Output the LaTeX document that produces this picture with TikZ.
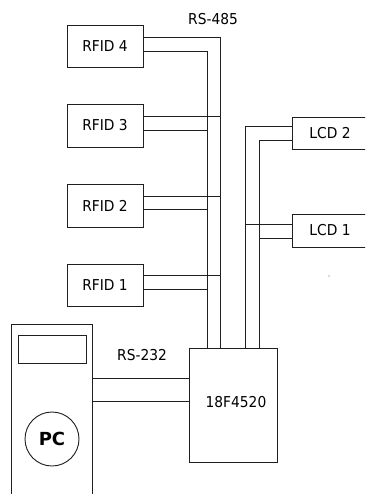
\documentclass[tikz,border=0pt]{standalone}
\usepackage{fontspec}
\usetikzlibrary{calc}
\newfontfamily\lbl{DejaVu Sans}[FakeStretch=0.92]
\newfontfamily\lblb{DejaVu Sans}
\begin{document}
\begin{tikzpicture}[x=1pt,y=-1pt,
  wire/.style={draw=black!88,line width=0.9pt},
  box/.style={draw=black!88,line width=0.9pt,rectangle,inner sep=0pt,font=\lbl\fontsize{15}{18}\selectfont},
  txt/.style={inner sep=0pt,font=\lbl\fontsize{15}{18}\selectfont}]
\useasboundingbox (0,0) rectangle (365,494);
\clip (0,0) rectangle (365,494);
% RFID boxes
\node[box,minimum width=76pt,minimum height=42pt] (r4) at (105,46) {RFID 4};
\node[box,minimum width=76pt,minimum height=43pt] (r3) at (105,125.5) {RFID 3};
\node[box,minimum width=76pt,minimum height=43pt] (r2) at (105,205.5) {RFID 2};
\node[box,minimum width=76pt,minimum height=42pt] (r1) at (105,285) {RFID 1};
% LCD boxes (cut by right edge)
\node[box,minimum width=76pt,minimum height=32pt] (l2) at (330,133) {LCD 2};
\node[box,minimum width=76pt,minimum height=33pt] (l1) at (330,230.5) {LCD 1};
% microcontroller
\node[box,minimum width=88pt,minimum height=114pt] (mcu) at (233,405) {};
\node[txt] (mcut) at (236,402) {18F4520};
% PC (cut by bottom edge)
\node[box,minimum width=81pt,minimum height=190pt] (pc) at (51.5,419) {};
\node[box,minimum width=68pt,minimum height=28pt] (scr) at (52,349) {};
\node[draw=black!88,line width=0.9pt,circle,minimum size=54pt,inner sep=0pt,font=\lblb\bfseries\fontsize{18}{20}\selectfont] (pcc) at (52,439) {PC};
% labels
\node[txt] (rs485) at (213,19) {RS-485};
\node[txt] (rs232) at (142,355) {RS-232};
% bus coordinates at MCU top
\coordinate (bA) at ($(mcu.north west)+(32,0)$);
\coordinate (bB) at ($(mcu.north west)+(19,0)$);
\coordinate (bC) at ($(mcu.north west)+(57,0)$);
\coordinate (bD) at ($(mcu.north west)+(71,0)$);
% RS-485 bus
\draw[wire] ([yshift=9pt]r4.east) -| (bA);
\draw[wire] ([yshift=-5pt]r4.east) -| (bB);
\draw[wire] ([yshift=9.5pt]r3.east) -- ([yshift=9.5pt]r3.east -| bA);
\draw[wire] ([yshift=-4.5pt]r3.east) -- ([yshift=-4.5pt]r3.east -| bB);
\draw[wire] ([yshift=9.5pt]r2.east) -- ([yshift=9.5pt]r2.east -| bA);
\draw[wire] ([yshift=-3.5pt]r2.east) -- ([yshift=-3.5pt]r2.east -| bB);
\draw[wire] ([yshift=10pt]r1.east) -- ([yshift=10pt]r1.east -| bA);
\draw[wire] ([yshift=-4pt]r1.east) -- ([yshift=-4pt]r1.east -| bB);
% LCD bus
\draw[wire] ([yshift=7pt]l2.west) -| (bC);
\draw[wire] ([yshift=-7pt]l2.west) -| (bD);
\draw[wire] ([yshift=6.5pt]l1.west) -- ([yshift=6.5pt]l1.west -| bC);
\draw[wire] ([yshift=-7.5pt]l1.west) -- ([yshift=-7.5pt]l1.west -| bD);
% RS-232
\draw[wire] (pc.east |- 0,378) -- (mcu.west |- 0,378);
\draw[wire] (pc.east |- 0,401) -- (mcu.west |- 0,401);
% stray dot
\fill[black!60] (329,276) circle (0.6);
\end{tikzpicture}
\end{document}
